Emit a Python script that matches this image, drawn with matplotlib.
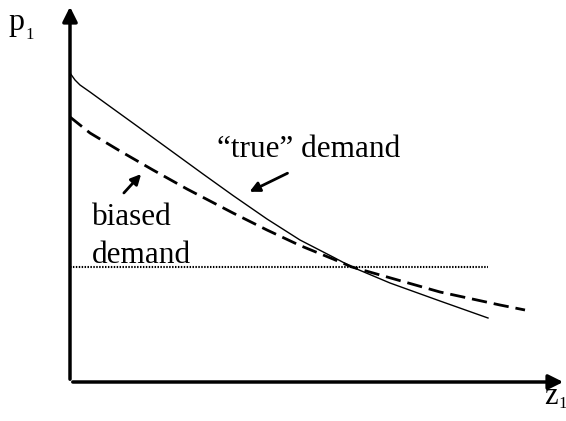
import matplotlib.pyplot as plt

# "true" demand curve (z1, p1)
true_z = [0, 5, 10, 20, 40, 67, 100, 133, 163, 197, 230, 263, 282, 320, 370, 418]
true_p = [309, 302, 297, 290, 275.5, 256, 232, 208, 186.5, 163, 142, 125, 115, 99, 81, 64]

# biased demand curve
bias_z = [0, 20, 50, 83, 117, 163, 197, 230, 263, 282, 370, 430, 455]
bias_p = [265, 249, 231, 212, 193, 169, 152, 136.5, 123, 115, 90, 77, 72]

# price level line
price_level = 115
price_z_end = 418

plt.rcParams['font.family'] = ['Liberation Serif', 'DejaVu Serif']

fig = plt.figure(figsize=(5.66, 4.21), dpi=100)
ax = fig.add_axes([0, 0, 1, 1])
ax.set_xlim(-70, 496)
ax.set_ylim(-39, 382)
ax.axis('off')

# axes with arrows
ax.annotate('', xy=(0, 378), xytext=(0, 0),
            arrowprops=dict(arrowstyle='-|>', lw=2.5, color='k', mutation_scale=22))
ax.annotate('', xy=(496, 0), xytext=(0, 0),
            arrowprops=dict(arrowstyle='-|>', lw=2.5, color='k', mutation_scale=22))

# curves
ax.plot(true_z, true_p, color='k', lw=1)
ax.plot(bias_z, bias_p, color='k', lw=2, dashes=(5.5, 2.5))
ax.plot([0, price_z_end], [price_level, price_level], color='k', lw=1.5, dashes=(0.7, 0.7))

# labels
ax.text(147, 225, '\u201ctrue\u201d demand', fontsize=22.5, va='baseline', ha='left')
ax.text(22, 157, 'biased', fontsize=22.5, va='baseline', ha='left')
ax.text(22, 119, 'demand', fontsize=22.5, va='baseline', ha='left')
ax.annotate('', xy=(177, 189), xytext=(220, 210),
            arrowprops=dict(arrowstyle='-|>', lw=2, color='k', mutation_scale=15))
ax.annotate('', xy=(73, 210), xytext=(52, 187),
            arrowprops=dict(arrowstyle='-|>', lw=2, color='k', mutation_scale=15))

# axis labels
ax.text(-62, 352, 'p', fontsize=23, va='baseline', ha='left')
ax.text(-45, 343, '1', fontsize=12, va='baseline', ha='left')
ax.text(474, -22, 'z', fontsize=22, va='baseline', ha='left')
ax.text(488, -26, '1', fontsize=12, va='baseline', ha='left', clip_on=False)

plt.savefig('out.png', dpi=100)
